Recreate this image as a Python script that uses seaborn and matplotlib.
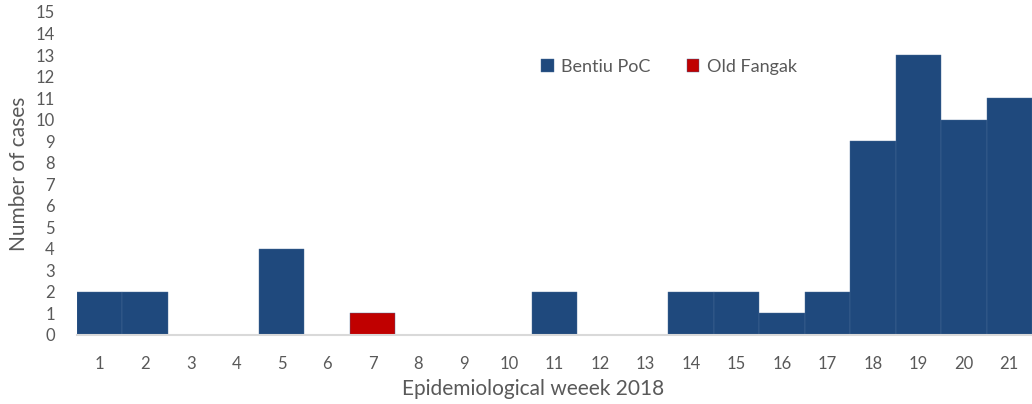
import seaborn as sns
import matplotlib.pyplot as plt
import pandas as pd

weeks = [str(w) for w in range(1, 22)]
bentiu = [2, 2, 0, 0, 4, 0, 0, 0, 0, 0, 2, 0, 0, 2, 2, 1, 2, 9, 13, 10, 11]
old_fangak = [0, 0, 0, 0, 0, 0, 1, 0, 0, 0, 0, 0, 0, 0, 0, 0, 0, 0, 0, 0, 0]

df = pd.concat([
    pd.DataFrame({'week': weeks, 'cases': bentiu, 'site': 'Bentiu PoC'}),
    pd.DataFrame({'week': weeks, 'cases': old_fangak, 'site': 'Old Fangak'}),
])

sns.set_style('white')
plt.rcParams['font.family'] = ['Lato', 'DejaVu Sans']
txt = '#595959'

fig = plt.figure(figsize=(10.32, 4.04), dpi=100)
ax = fig.add_axes([0.0746, 0.1708, 0.9254, 0.7995])
sns.barplot(data=df, x='week', y='cases', hue='site', order=weeks,
            palette={'Bentiu PoC': '#1f497d', 'Old Fangak': '#c00000'},
            saturation=1, dodge=False, width=1.0, edgecolor='#4a6c98',
            linewidth=0.3, ax=ax)

ax.set_ylim(0, 15)
ax.set_xlim(-0.5, 20.5)
ax.set_yticks(range(16))
ax.tick_params(axis='both', length=0, colors=txt, labelsize=12)
ax.tick_params(axis='x', pad=15)
ax.tick_params(axis='y', pad=16)
for s in ['top', 'right', 'left']:
    ax.spines[s].set_visible(False)
ax.spines['bottom'].set_color('#d9d9d9')
ax.spines['bottom'].set_linewidth(1.5)

ax.set_xlabel('Epidemiological weeek 2018', color=txt, fontsize=15)
ax.xaxis.set_label_coords((533 - 77) / 955, -0.135)
ax.set_ylabel('Number of cases', color=txt, fontsize=15)
ax.yaxis.set_label_coords(-0.05, 0.5)

leg = ax.legend(loc='center', bbox_to_anchor=(0.62, 0.83), ncol=2, frameon=False,
                fontsize=13, handlelength=0.7, handleheight=0.7, columnspacing=2.0,
                handletextpad=0.4)
for t in leg.get_texts():
    t.set_color(txt)

fig.savefig('out.png', dpi=100)
